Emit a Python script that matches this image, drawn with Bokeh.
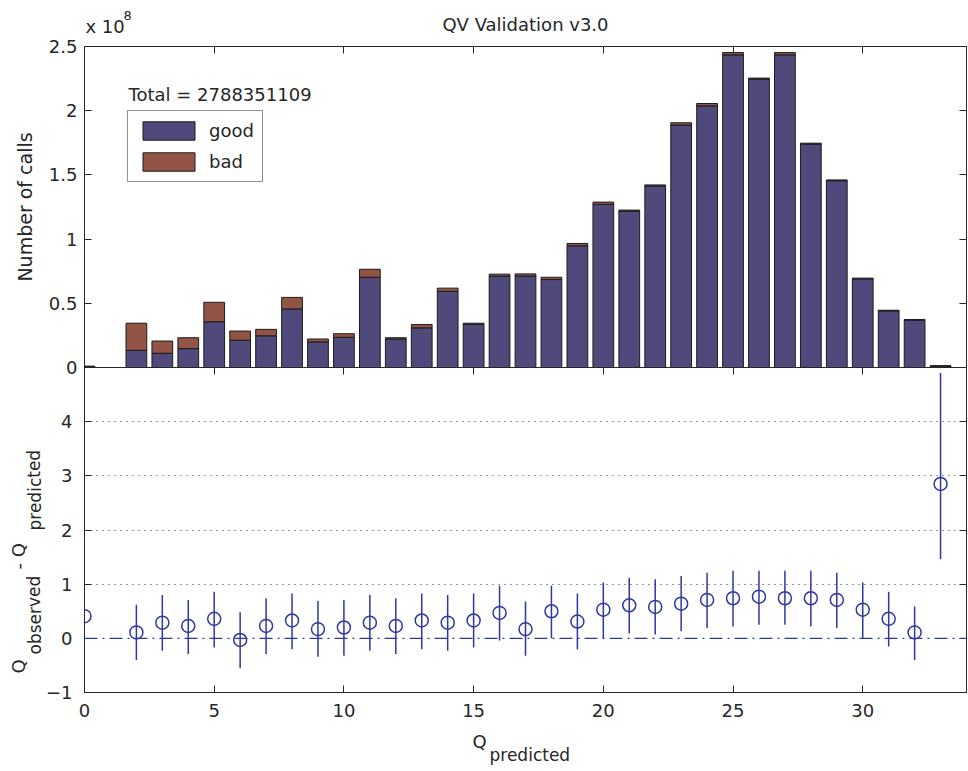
import math
from bokeh.plotting import figure
from bokeh.models import (ColumnDataSource, Range1d, LinearAxis, SingleIntervalTicker,
                          FixedTicker, Label, Span, Legend, CustomJSTickFormatter)
from bokeh.core.properties import value
from bokeh.layouts import column
from bokeh.embed import file_html
from bokeh.resources import INLINE

# ---------------- data ----------------
q = list(range(34))                        # Q_predicted bins
# number of calls, in units of 1e8
good = [0.008, 0.0, 0.134, 0.111, 0.147, 0.356, 0.212, 0.247, 0.456, 0.199,
        0.235, 0.703, 0.222, 0.309, 0.593, 0.335, 0.712, 0.712, 0.685, 0.948,
        1.270, 1.218, 1.414, 1.888, 2.038, 2.435, 2.246, 2.435, 1.740, 1.455,
        0.690, 0.441, 0.369, 0.012]
bad = [0.002, 0.0, 0.211, 0.095, 0.085, 0.152, 0.072, 0.050, 0.090, 0.023,
       0.028, 0.062, 0.010, 0.026, 0.025, 0.010, 0.015, 0.017, 0.018, 0.018,
       0.018, 0.008, 0.008, 0.018, 0.018, 0.018, 0.008, 0.018, 0.007, 0.006,
       0.006, 0.005, 0.005, 0.001]
total_text = "Total = 2788351109"

q_err = [0] + list(range(2, 34))
dq = [0.41, 0.11, 0.29, 0.23, 0.36, -0.03, 0.23, 0.33, 0.17, 0.20, 0.29,
      0.23, 0.33, 0.29, 0.33, 0.47, 0.17, 0.50, 0.31, 0.53, 0.61, 0.58,
      0.64, 0.71, 0.74, 0.77, 0.74, 0.74, 0.71, 0.53, 0.36, 0.11, 2.85]
dq_low = [float("nan"), -0.40, -0.23, -0.29, -0.17, -0.55, -0.29, -0.20, -0.34,
          -0.32, -0.23, -0.29, -0.20, -0.23, -0.17, -0.04, -0.32, 0.00, -0.20,
          0.00, 0.09, 0.07, 0.13, 0.19, 0.22, 0.25, 0.25, 0.22, 0.19, 0.00,
          -0.15, -0.40, 1.46]
dq_high = [float("nan"), 0.62, 0.80, 0.71, 0.86, 0.48, 0.74, 0.83, 0.69, 0.71,
           0.80, 0.74, 0.83, 0.80, 0.83, 0.97, 0.68, 0.97, 0.83, 1.03, 1.12,
           1.09, 1.15, 1.21, 1.25, 1.25, 1.25, 1.25, 1.21, 1.03, 0.86, 0.59, 4.90]

# ---------------- style ----------------
FONT = "DejaVu Sans"
TXT = "#262626"
LINE = "#262626"
GOOD = "#4F4A7B"
BAD = "#925545"
BLUE = "#2E38A3"
FS = "18px"
SUB = "17px"

W = 968
X0, X1 = 0, 34
Y1_0, Y1_1 = 0, 2.5
Y2_0, Y2_1 = -1, 5

# frame geometry (canvas pixels)
FL, FR = 84.0, 966.0
T1, B1 = 43.0, 367.0
H1 = 379          # top figure height (12 px overlap below its frame)
H2 = 404          # bottom figure height
OVL = 12
HT = H1 + H2 - OVL
BL = 7            # baseline correction of rendered text
RS = 10           # along-text shift for the rotated label


def y1d(py):
    return Y1_0 + (B1 - py) / (B1 - T1) * (Y1_1 - Y1_0)


def xd(px):
    return X0 + (px - FL) / (FR - FL) * (X1 - X0)


def style_axis(ax, ticker, show_labels=True):
    ax.ticker = ticker
    ax.major_tick_in = 7
    ax.major_tick_out = 0
    ax.minor_tick_line_color = None
    ax.axis_line_color = LINE
    ax.major_tick_line_color = LINE
    if show_labels:
        ax.major_label_text_font = FONT
        ax.major_label_text_font_size = FS
        ax.major_label_text_color = TXT
    else:
        ax.formatter = CustomJSTickFormatter(code="return '';")
        ax.major_label_text_font_size = "1px"
        ax.major_label_text_color = None
        ax.major_label_standoff = 0


# ---------------- top panel ----------------
src1 = ColumnDataSource(dict(q=q, good=good, bad=bad))
p1 = figure(width=W, height=H1, x_range=Range1d(X0, X1), y_range=Range1d(Y1_0, Y1_1),
            output_backend="svg", toolbar_location=None,
            x_axis_location=None, y_axis_location="left",
            min_border_left=84, min_border_right=2, min_border_top=43, min_border_bottom=OVL,
            title="QV Validation v3.0")
p1.title.align = "center"
p1.title.text_font = FONT
p1.title.text_font_size = FS
p1.title.text_font_style = "normal"
p1.title.text_color = TXT
p1.title.standoff = 23
p1.grid.visible = False
p1.outline_line_color = LINE

yax1 = p1.yaxis[0]
style_axis(yax1, SingleIntervalTicker(interval=0.5, num_minor_ticks=0))
yax1.formatter = CustomJSTickFormatter(code="return String(Math.round(tick*10)/10);")
yax1.major_label_standoff = 7
yax1.axis_label = "Number of calls"
yax1.axis_label_text_font = FONT
yax1.axis_label_text_font_size = "19px"
yax1.axis_label_text_font_style = "normal"
yax1.axis_label_text_color = TXT
yax1.axis_label_standoff = 10

ax_top1 = LinearAxis()
style_axis(ax_top1, SingleIntervalTicker(interval=5, num_minor_ticks=0), show_labels=False)
p1.add_layout(ax_top1, "above")
ax_right1 = LinearAxis()
style_axis(ax_right1, SingleIntervalTicker(interval=0.5, num_minor_ticks=0), show_labels=False)
p1.add_layout(ax_right1, "right")

rs = p1.vbar_stack(["good", "bad"], x="q", width=0.8, color=[GOOD, BAD],
                   line_color="#1c1c1c", line_width=1, source=src1)
legend = Legend(items=[("good", [rs[0]]), ("bad", [rs[1]])], location=(43, 185),
                border_line_color=LINE, border_line_width=1, background_fill_color="white",
                background_fill_alpha=1, padding=8, spacing=8, glyph_width=65, glyph_height=23,
                label_standoff=8, label_text_font=FONT, label_text_font_size=FS,
                label_text_color=TXT, label_height=23, margin=0)
p1.add_layout(legend, "center")

p1.add_layout(Label(x=xd(128), y=y1d(98 - BL), text=total_text, text_font=FONT,
                    text_font_size=FS, text_color=TXT, text_baseline="alphabetic",
                    text_align="left"))

# ---------------- bottom panel ----------------
src2 = ColumnDataSource(dict(q=q_err, dq=dq, lo=dq_low, hi=dq_high))
p2 = figure(width=W, height=H2, x_range=p1.x_range, y_range=Range1d(Y2_0, Y2_1),
            output_backend="svg", toolbar_location=None,
            x_axis_location="below", y_axis_location="left",
            min_border_left=84, min_border_right=2, min_border_top=0,
            min_border_bottom=H2 - 325)
p2.margin = (-OVL, 0, 0, 0)
p2.background_fill_color = None
p2.border_fill_color = None
p2.outline_line_color = LINE
p2.xgrid.visible = False

style_axis(p2.xaxis[0], SingleIntervalTicker(interval=5, num_minor_ticks=0))
p2.xaxis[0].major_label_standoff = 11
style_axis(p2.yaxis[0], FixedTicker(ticks=[-1, 0, 1, 2, 3, 4]))
p2.yaxis[0].major_label_standoff = 12
ax_top2 = LinearAxis()
style_axis(ax_top2, SingleIntervalTicker(interval=5, num_minor_ticks=0), show_labels=False)
p2.add_layout(ax_top2, "above")
ax_right2 = LinearAxis()
style_axis(ax_right2, FixedTicker(ticks=[-1, 0, 1, 2, 3, 4]), show_labels=False)
p2.add_layout(ax_right2, "right")

p2.ygrid.ticker = FixedTicker(ticks=[1, 2, 3, 4])
p2.ygrid.grid_line_color = "#333333"
p2.ygrid.grid_line_dash = "1 5"
p2.ygrid.grid_line_width = 1.2

p2.add_layout(Span(location=0, dimension="width", line_color=BLUE, line_width=1.3,
                   line_dash="13 5 2 5"))
p2.segment(x0="q", y0="lo", x1="q", y1="hi", source=src2, line_color=BLUE, line_width=1.5)
p2.scatter(x="q", y="dq", source=src2, marker="circle", size=13, fill_color=None,
           line_color=BLUE, line_width=1.5)

# ---------------- overlay for texts outside the frames ----------------
ov = figure(width=W, height=HT, x_range=Range1d(0, W), y_range=Range1d(HT, 0),
            output_backend="svg", toolbar_location=None,
            x_axis_location=None, y_axis_location=None, min_border=0)
ov.frame_align = False
ov.margin = (-HT, 0, 0, 0)
ov.background_fill_color = None
ov.border_fill_color = None
ov.outline_line_color = None
ov.grid.visible = False

# label pieces at canvas pixel positions (horizontal: baseline y; rotated: baseline x)
main_txt = dict(text=["x 10", "Q", "Q", " - Q"],
                x=[85, 472, 25 - BL, 25 - BL],
                y=[33 - BL, 748 - BL, 663 + RS, 559 + RS],
                angle=[0, 0, math.pi / 2, math.pi / 2])
sub_txt = dict(text=["predicted", "observed", "predicted"],
               x=[489, 41 - BL, 41 - BL], y=[761 - BL, 644 + RS, 520 + RS],
               angle=[0, math.pi / 2, math.pi / 2])
sup_txt = dict(text=["8"], x=[123], y=[22 - BL], angle=[0])
for d, fs in ((main_txt, FS), (sub_txt, SUB), (sup_txt, "13px")):
    ov.text(x="x", y="y", text="text", angle="angle", source=ColumnDataSource(d),
            text_font=value(FONT), text_font_size=value(fs), text_color=TXT,
            text_baseline="alphabetic", text_align="left")

layout = column(p1, p2, ov, spacing=0)
open("out.html", "w").write(file_html(layout, INLINE))
